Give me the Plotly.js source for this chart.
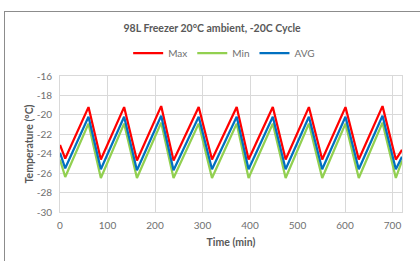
<!DOCTYPE html>
<html>
<head>
<meta charset="utf-8">
<script src="https://cdn.plot.ly/plotly-3.0.1.min.js"></script>
<style>
  html, body { margin: 0; padding: 0; background: #fff; overflow: hidden; }
  #frame { position: absolute; left: 4px; top: 11px; width: 600px; height: 400px; border: 1px solid #8c8c8c; box-sizing: border-box; }
  #chart { position: absolute; left: 0; top: 0; width: 420px; height: 261px; }
</style>
</head>
<body>
<div id="frame"></div>
<div id="chart"></div>
<script>
const time   = [0, 11, 60, 86, 135, 162, 213, 239, 292, 320, 372, 397, 448, 475, 524, 552, 601, 629, 679, 707, 720];
const maxT   = [-23.1, -24.5, -19.2, -24.6, -19.2, -24.7, -19.1, -24.7, -19.2, -24.6, -19.2, -24.6, -19.2, -24.6, -19.2, -24.6, -19.2, -24.6, -19.1, -24.6, -23.6];
const avgT   = [-23.9, -25.5, -20.2, -25.6, -20.2, -25.7, -20.1, -25.7, -20.2, -25.6, -20.2, -25.6, -20.2, -25.6, -20.2, -25.6, -20.2, -25.6, -20.1, -25.6, -24.3];
const minT   = [-24.6, -26.4, -20.9, -26.5, -20.9, -26.5, -20.8, -26.5, -20.9, -26.5, -20.9, -26.5, -20.9, -26.5, -20.9, -26.5, -20.9, -26.5, -20.8, -26.5, -24.7];
const seriesNames = ["Max", "Min", "AVG"];
const yTicks = [-30, -28, -26, -24, -22, -20, -18, -16];
const xTicks = [0, 100, 200, 300, 400, 500, 600, 700];

const font = "Lato, 'Open Sans', sans-serif";
const grey = "#595959";
const tickGrey = "#6f6f6f";

const traces = [
  {x: time, y: maxT, name: seriesNames[0], mode: "lines", line: {color: "#ff0000", width: 2.25}},
  {x: time, y: minT, name: seriesNames[1], mode: "lines", line: {color: "#92d050", width: 2.25}},
  {x: time, y: avgT, name: seriesNames[2], mode: "lines", line: {color: "#0070c0", width: 2.25}}
];

const layout = {
  width: 420, height: 261,
  margin: {l: 60, r: 18, t: 76, b: 49},
  paper_bgcolor: "rgba(0,0,0,0)",
  plot_bgcolor: "rgba(0,0,0,0)",
  font: {family: font, color: grey, size: 10},
  title: {text: "<b>98L Freezer 20°C ambient, -20C Cycle</b>", x: 0.505, xanchor: "center", y: 0.893, yanchor: "middle", font: {family: font, size: 10.5, color: grey}},
  showlegend: true,
  legend: {orientation: "h", x: 0.48, xanchor: "center", y: 1.168, yanchor: "middle", font: {family: font, size: 10, color: tickGrey}, itemwidth: 30, tracegroupgap: 0, bgcolor: "rgba(0,0,0,0)"},
  xaxis: {
    range: [0, 720], tickvals: xTicks, ticktext: xTicks.map(String),
    showgrid: true, gridcolor: "#d9d9d9", gridwidth: 1,
    showline: true, mirror: true, linecolor: "#d9d9d9", linewidth: 1,
    zeroline: false, ticks: "", ticklen: 0, ticklabelstandoff: 4,
    tickfont: {family: font, size: 10, color: tickGrey},
    title: {text: "<b>Time (min)</b>", font: {family: font, size: 10.5, color: grey}, standoff: 8}
  },
  yaxis: {
    range: [-30, -16], tickvals: yTicks, ticktext: yTicks.map(String),
    showgrid: true, gridcolor: "#d9d9d9", gridwidth: 1,
    showline: true, mirror: true, linecolor: "#d9d9d9", linewidth: 1,
    zeroline: false, ticks: "", ticklen: 0, ticklabelstandoff: 5,
    tickfont: {family: font, size: 10, color: tickGrey},
    title: {text: "<b>Temperature (°C)</b>", font: {family: font, size: 10.5, color: grey}, standoff: 0}
  }
};

Plotly.newPlot("chart", traces, layout, {displayModeBar: false, staticPlot: true});
</script>
</body>
</html>
